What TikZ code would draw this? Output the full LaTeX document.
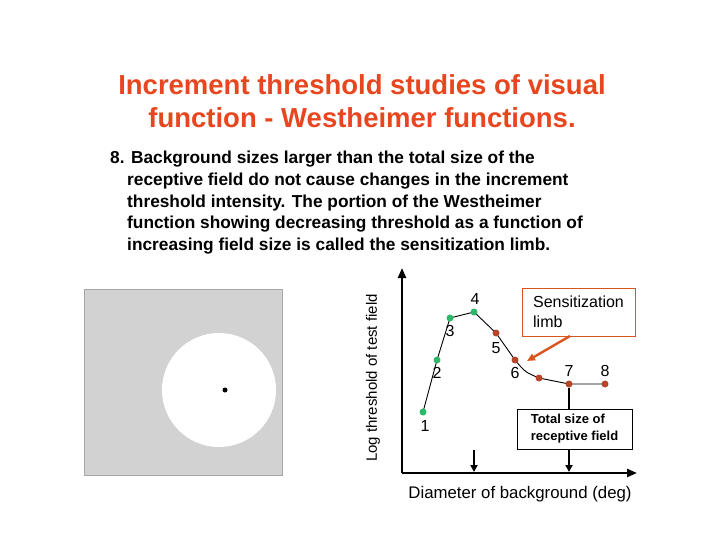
\documentclass[tikz,border=0pt]{standalone}
\usepackage{fontspec}
\setmainfont{Liberation Sans}
\usetikzlibrary{arrows.meta}
\definecolor{ttl}{HTML}{E8461E}
\definecolor{grn}{HTML}{2EB86A}
\definecolor{brn}{HTML}{B8452A}
\definecolor{org}{HTML}{D9541E}
\begin{document}
\begin{tikzpicture}[x=1pt,y=-1pt,
  pt/.style={circle,fill=#1,inner sep=0pt,minimum size=7pt},
  num/.style={font=\fontsize{16}{18}\selectfont},
  ax/.style={line width=2.4pt,-{Triangle[length=10pt,width=8pt]}},
  dn/.style={line width=2.2pt,-{Triangle[length=7pt,width=7pt]}}]
\useasboundingbox (0,0) rectangle (720,540);
\node[font=\bfseries\fontsize{27.5}{33}\selectfont,text=ttl,align=center] (title) at (362,101) {Increment threshold studies of visual\\function - Westheimer functions.};
\node[font=\bfseries\fontsize{17.3}{21.7}\selectfont,align=left,anchor=north west,inner sep=0pt] (body) at (110,151) {8. Background sizes larger than the total size of the\\
\hspace*{17pt}receptive field do not cause changes in the increment\\
\hspace*{17pt}threshold intensity. The portion of the Westheimer\\
\hspace*{17pt}function showing decreasing threshold as a function of\\
\hspace*{17pt}increasing field size is called the sensitization limb.};
% stimulus
\node[draw=gray!70,fill=gray!35,minimum width=198pt,minimum height=186pt,inner sep=0pt] (sq) at (183,382) {};
\node[circle,fill=white,minimum size=114pt,inner sep=0pt] (circ) at (219,390) {};
\node[circle,fill=black,minimum size=5pt,inner sep=0pt] (dot) at (225,390) {};
% axes
\coordinate (o) at (402,473);
\coordinate (yt) at (402,268);
\coordinate (xr) at (637,473);
\draw[ax] (o) -- (yt);
\draw[ax] (o) -- (xr);
\node[rotate=90,font=\fontsize{15}{17}\selectfont] (ylab) at (373,378) {Log threshold of test field};
\node[font=\fontsize{16.8}{19}\selectfont] (xlab) at (520,494) {Diameter of background (deg)};
% points
\draw[line width=0.9pt] (423,412) -- (437,360) -- (450,318) -- (474,312) .. controls (485,322) .. (496,333) .. controls (505,346) .. (515,360) .. controls (525,372) .. (539,378) -- (569,384) -- (605,384);
\node[pt=grn] (p1) at (423,412) {};
\node[pt=grn] (p2) at (437,360) {};
\node[pt=grn] (p3) at (450,318) {};
\node[pt=grn] (p4) at (474,312) {};
\node[pt=brn] (p5) at (496,333) {};
\node[pt=brn] (p6) at (515,360) {};
\node[pt=brn] (p6b) at (539,378) {};
\node[pt=brn] (p7) at (569,384) {};
\node[pt=brn] (p8) at (605,384) {};
\node[num] (l1) at (425,426) {1};
\node[num] (l2) at (437,373) {2};
\node[num] (l3) at (450,331) {3};
\node[num] (l4) at (475,299) {4};
\node[num] (l5) at (496,348) {5};
\node[num] (l6) at (515,373) {6};
\node[num] (l7) at (569,371) {7};
\node[num] (l8) at (605,371) {8};
% boxes
\node[draw=org,fill=white,font=\fontsize{16}{20}\selectfont,align=left,minimum width=113pt,minimum height=48pt,inner sep=2pt] (sens) at (578.5,312) {Sensitization\\limb};
\node[draw=black,fill=white,font=\bfseries\fontsize{13}{17}\selectfont,align=left,minimum width=115pt,minimum height=40pt,inner sep=2pt] (tot) at (574.5,429) {Total size of\\receptive field};
\coordinate (a1) at (474,450);
\coordinate (a1e) at (474,472);
\draw[dn] (a1) -- (a1e);
\draw[line width=2.2pt] (p7) -- (tot.north -| p7);
\coordinate (a2e) at (569,472);
\draw[dn] (tot.south -| p7) -- (a2e);
\coordinate (sa) at (570,336);
\coordinate (sb) at (527,361);
\draw[org,line width=2.4pt,-{Triangle[length=8pt,width=7pt]}] (sa) -- (sb);
\end{tikzpicture}
\end{document}
